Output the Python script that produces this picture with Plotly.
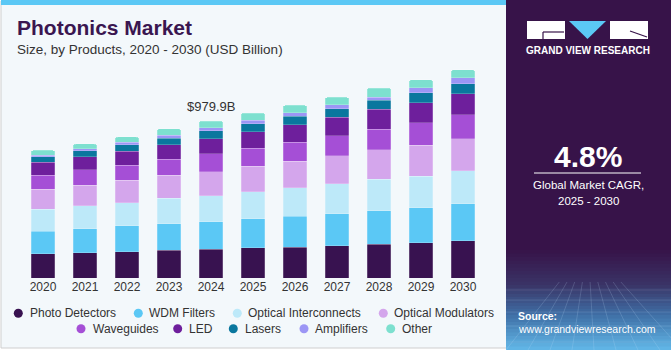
import plotly.graph_objects as go

W, H = 671, 350

years = ["2020", "2021", "2022", "2023", "2024", "2025", "2026", "2027", "2028", "2029", "2030"]

photo_detectors = [152, 160, 166, 175, 181, 191, 193, 202, 212, 222, 233]
wdm_filters = [143, 150, 162, 166, 173, 181, 195, 200, 210, 218, 231]
optical_interconnects = [137, 143, 143, 158, 162, 168, 177, 187, 195, 198, 206]
optical_modulators = [125, 129, 141, 143, 148, 160, 166, 177, 185, 193, 202]
waveguides = [87, 94, 94, 102, 112, 112, 118, 123, 129, 139, 148]
led = [81, 83, 87, 89, 96, 104, 110, 116, 123, 127, 133]
lasers = [33, 37, 40, 42, 50, 50, 52, 54, 58, 60, 60]
amplifiers = [10, 12, 17, 17, 17, 21, 21, 23, 17, 33, 39]
other = [31, 31, 33, 42, 42, 44, 48, 48, 58, 50, 50]

series_names = ["Photo Detectors", "WDM Filters", "Optical Interconnects", "Optical Modulators",
                "Waveguides", "LED", "Lasers", "Amplifiers", "Other"]
series_values = [photo_detectors, wdm_filters, optical_interconnects, optical_modulators,
                 waveguides, led, lasers, amplifiers, other]
colors = ["#381250", "#5BC8F5", "#BDE9F9", "#D4A6EC", "#A54FD6", "#6E1F9C", "#0A779E", "#9C96F5", "#7DE0CF"]

highlight_year = "2024"
highlight_label = "$979.9B"


def px(x):
    return x / W


def py(y):
    return 1 - y / H


fig = go.Figure()
for name, vals, col in zip(series_names, series_values, colors):
    fig.add_trace(go.Bar(x=years, y=vals, name=name,
                         marker=dict(color=col, line=dict(color="rgba(255,255,255,0.35)", width=0.6)),
                         showlegend=False, hoverinfo="skip"))

shapes = []
# card
shapes.append(dict(type="rect", xref="paper", yref="paper", x0=px(1), x1=px(512), y0=py(348), y1=py(1),
                   fillcolor="#F3F8FB", line=dict(color="#CFCFCF", width=1), layer="below"))
shapes.append(dict(type="rect", xref="paper", yref="paper", x0=px(1), x1=px(512), y0=py(5), y1=py(0),
                   fillcolor="#5BC8F5", line=dict(width=0), layer="below"))

# right panel with gradient bottom
panel_x0, panel_x1 = 506, 671
shapes.append(dict(type="rect", xref="paper", yref="paper", x0=px(panel_x0), x1=px(panel_x1), y0=py(350), y1=py(0),
                   fillcolor="#371349", line=dict(width=0)))


def lerp(c1, c2, t):
    a = [int(c1[i:i + 2], 16) for i in (1, 3, 5)]
    b = [int(c2[i:i + 2], 16) for i in (1, 3, 5)]
    return "rgb(%d,%d,%d)" % tuple(round(a[k] + (b[k] - a[k]) * t) for k in range(3))


stops = [(250, "#371349"), (285, "#3A3466"), (315, "#3F6FA6"), (350, "#62B8E8")]
for i in range(len(stops) - 1):
    y0s, c0 = stops[i]
    y1s, c1 = stops[i + 1]
    n = 10
    for k in range(n):
        ya = y0s + (y1s - y0s) * k / n
        yb = y0s + (y1s - y0s) * (k + 1) / n
        shapes.append(dict(type="rect", xref="paper", yref="paper", x0=px(panel_x0), x1=px(panel_x1),
                           y0=py(yb + 0.5), y1=py(ya), fillcolor=lerp(c0, c1, (k + 0.5) / n), line=dict(width=0)))
# faint grid lines
for k in range(9):
    xb = panel_x0 + k * 22
    shapes.append(dict(type="line", xref="paper", yref="paper", x0=px(588 + (xb - 588) * 0.35), y0=py(282),
                       x1=px(xb), y1=py(350), line=dict(color="rgba(200,225,255,0.18)", width=1)))
for yy in [290, 300, 312, 326, 342]:
    shapes.append(dict(type="line", xref="paper", yref="paper", x0=px(panel_x0), y0=py(yy), x1=px(panel_x1), y1=py(yy),
                       line=dict(color="rgba(200,225,255,0.15)", width=1)))

# logo
shapes.append(dict(type="rect", xref="paper", yref="paper", x0=px(527), x1=px(565), y0=py(39), y1=py(21),
                   fillcolor="white", line=dict(width=0)))
shapes.append(dict(type="line", xref="paper", yref="paper", x0=px(543), x1=px(564), y0=py(32), y1=py(32),
                   line=dict(color="#371349", width=1.2)))
shapes.append(dict(type="line", xref="paper", yref="paper", x0=px(543), x1=px(543), y0=py(32), y1=py(39),
                   line=dict(color="#371349", width=1.2)))
shapes.append(dict(type="path", xref="paper", yref="paper",
                   path="M %f %f L %f %f L %f %f Z" % (px(569), py(21), px(606), py(21), px(587.5), py(39)),
                   fillcolor="#5BC8F5", line=dict(width=0)))
shapes.append(dict(type="rect", xref="paper", yref="paper", x0=px(610), x1=px(648), y0=py(39), y1=py(21),
                   fillcolor="white", line=dict(width=0)))
shapes.append(dict(type="line", xref="paper", yref="paper", x0=px(630), x1=px(647), y0=py(31), y1=py(37),
                   line=dict(color="#371349", width=1.2)))
# divider
shapes.append(dict(type="line", xref="paper", yref="paper", x0=px(534), x1=px(641), y0=py(173), y1=py(173),
                   line=dict(color="white", width=1)))

# legend dots
legend_pos = [(18.3, 313.3, 29), (138.3, 313.3, 148.3), (237.3, 313.3, 247.3), (383.3, 313.3, 393.3),
              (81, 328.7, 91.7), (177.7, 328.7, 188.3), (233.3, 328.7, 244.3), (304, 328.7, 314), (390.7, 328.7, 401)]
annotations = []
r = 4.5
for (cx, cy, tx), name, col in zip(legend_pos, series_names, colors):
    shapes.append(dict(type="circle", xref="paper", yref="paper", x0=px(cx - r), x1=px(cx + r), y0=py(cy + r),
                       y1=py(cy - r), fillcolor=col, line=dict(width=0)))
    annotations.append(dict(text=name, xref="paper", yref="paper", x=px(tx), y=py(cy), xanchor="left",
                            yanchor="middle", showarrow=False, borderpad=0, font=dict(size=12, color="#333333")))

FONT = "Liberation Sans, Arial, sans-serif"
annotations += [
    dict(text="<b>Photonics Market</b>", xref="paper", yref="paper", x=px(16), y=py(28), xanchor="left",
         yanchor="middle", showarrow=False, borderpad=0, font=dict(size=21, color="#3A1650")),
    dict(text="Size, by Products, 2020 - 2030 (USD Billion)", xref="paper", yref="paper", x=px(16), y=py(49),
         xanchor="left", yanchor="middle", showarrow=False, borderpad=0, font=dict(size=13.5, color="#333333")),
    dict(text="<b>GRAND VIEW RESEARCH</b>", xref="paper", yref="paper", x=px(588), y=py(51), xanchor="center",
         yanchor="middle", showarrow=False, font=dict(size=10, color="white")),
    dict(text="<b>4.8%</b>", xref="paper", yref="paper", x=px(588), y=py(156), xanchor="center", yanchor="middle",
         showarrow=False, font=dict(size=30, color="white")),
    dict(text="Global Market CAGR,", xref="paper", yref="paper", x=px(588), y=py(185), xanchor="center",
         yanchor="middle", showarrow=False, font=dict(size=11.5, color="white")),
    dict(text="2025 - 2030", xref="paper", yref="paper", x=px(588), y=py(201), xanchor="center", yanchor="middle",
         showarrow=False, font=dict(size=11.5, color="white")),
    dict(text="<b>Source:</b>", xref="paper", yref="paper", x=px(517), y=py(316), xanchor="left", yanchor="middle",
         showarrow=False, borderpad=0, font=dict(size=10.5, color="white")),
    dict(text="www.grandviewresearch.com", xref="paper", yref="paper", x=px(517), y=py(329), xanchor="left",
         yanchor="middle", showarrow=False, borderpad=0, font=dict(size=10.5, color="white")),
]

hi = years.index(highlight_year)
total_h = sum(v[hi] for v in series_values)
annotations.append(dict(text=highlight_label, x=hi, y=total_h, xref="x", yref="y", xanchor="center",
                        yanchor="bottom", yshift=5, showarrow=False, font=dict(size=13, color="#333333")))

fig.update_layout(
    width=W, height=H, margin=dict(l=0, r=0, t=0, b=0, autoexpand=False),
    paper_bgcolor="white", plot_bgcolor="rgba(0,0,0,0)",
    barmode="stack", bargap=0.43, barcornerradius=3,
    font=dict(family=FONT, color="#333333"),
    xaxis=dict(domain=[px(22), px(484)], type="category", range=[-0.5, len(years) - 0.5], showgrid=False,
               zeroline=False, showline=False, automargin=False,
               ticks="", tickfont=dict(size=12, color="#333333"), fixedrange=True),
    yaxis=dict(domain=[py(278.3), py(60)], range=[0, 1362.5], visible=False, automargin=False, fixedrange=True),
    shapes=shapes, annotations=annotations,
)

fig.write_html("out.html")
